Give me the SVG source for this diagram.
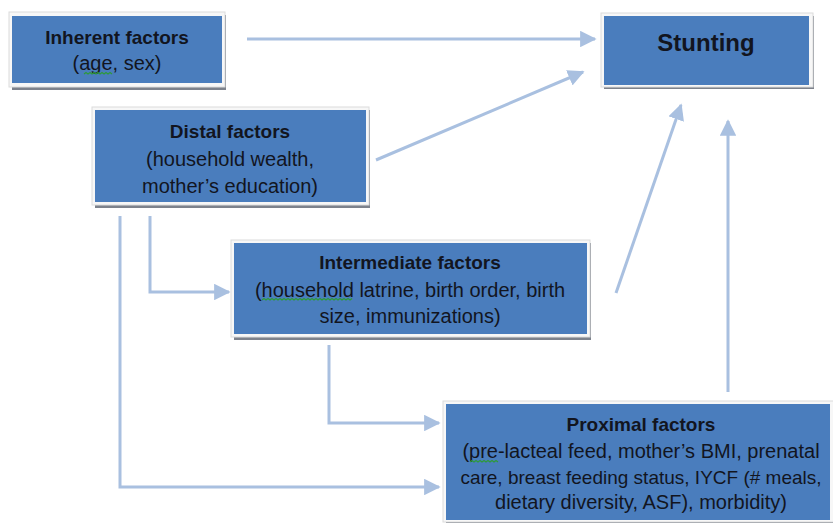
<svg xmlns="http://www.w3.org/2000/svg" width="833" height="523" viewBox="0 0 833 523">
  <defs>
    <style>
      .shadow { fill: #7d828c; }
      .frame { fill: #f7f7f7; stroke: #dcdcdc; stroke-width: 1; }
      .box { fill: #4a7dbd; }
      .t { font-family: "Liberation Sans", Arial, sans-serif; font-size: 20px; fill: #12151f; text-anchor: middle; }
      .b { font-weight: bold; font-size: 19px; }
      .conn { fill: none; stroke: #a9c0e0; stroke-width: 3; }
      .sq { fill: none; stroke: #2f9a3a; stroke-width: 1.2; }
    </style>
    <marker id="arr" viewBox="0 0 10 10" refX="9" refY="5" markerWidth="5.5" markerHeight="5.5" markerUnits="strokeWidth" orient="auto">
      <path d="M0,0 L10,5 L0,10 Z" fill="#a9c0e0"/>
    </marker>
  </defs>
  <rect width="833" height="523" fill="#ffffff"/>

  <g id="connectors">
    <line class="conn" x1="247" y1="39" x2="595" y2="39" marker-end="url(#arr)"/>
    <line class="conn" x1="376" y1="160" x2="583" y2="72" marker-end="url(#arr)"/>
    <line class="conn" x1="616" y1="293" x2="681" y2="105" marker-end="url(#arr)"/>
    <line class="conn" x1="728" y1="392" x2="728" y2="121" marker-end="url(#arr)"/>
    <polyline class="conn" points="150,216 150,292 229,292" marker-end="url(#arr)"/>
    <polyline class="conn" points="329,345 329,423 439,423" marker-end="url(#arr)"/>
    <polyline class="conn" points="120,216 120,487 439,487" marker-end="url(#arr)"/>
  </g>

  <g id="inherent">
    <rect class="shadow" x="12" y="15" width="214" height="75"/>
    <rect class="frame" x="9" y="12" width="216" height="75"/>
    <rect class="box" x="12" y="16" width="210" height="67"/>
    <text class="t b" x="117" y="44">Inherent factors</text>
    <text class="t" x="117" y="70">(age, sex)</text>
    <path class="sq" d="M84,74 l2,-1.5 l2,1.5 l2,-1.5 l2,1.5 l2,-1.5 l2,1.5 l2,-1.5 l2,1.5 l2,-1.5 l2,1.5 l2,-1.5 l2,1.5 l2,-1.5 l2,1.5"/>
  </g>

  <g id="stunting">
    <rect class="shadow" x="604" y="16" width="210" height="73"/>
    <rect class="frame" x="601" y="13" width="212" height="74"/>
    <rect class="box" x="604" y="16" width="205" height="69"/>
    <text class="t b" x="706" y="51" style="font-size:24px">Stunting</text>
  </g>

  <g id="distal">
    <rect class="shadow" x="95" y="110" width="275" height="98"/>
    <rect class="frame" x="92" y="107" width="277" height="98"/>
    <rect class="box" x="95" y="110" width="271" height="92"/>
    <text class="t b" x="230" y="138">Distal factors</text>
    <text class="t" x="230" y="166">(household wealth,</text>
    <text class="t" x="230" y="193">mother’s education)</text>
  </g>

  <g id="intermediate">
    <rect class="shadow" x="234" y="243" width="357" height="97"/>
    <rect class="frame" x="231" y="240" width="359" height="97"/>
    <rect class="box" x="234" y="243" width="353" height="91"/>
    <text class="t b" x="410" y="269">Intermediate factors</text>
    <text class="t" x="410" y="297">(household latrine, birth order, birth</text>
    <text class="t" x="410" y="323">size, immunizations)</text>
    <path class="sq" d="M262,300 l2,-1.5 l2,1.5 l2,-1.5 l2,1.5 l2,-1.5 l2,1.5 l2,-1.5 l2,1.5 l2,-1.5 l2,1.5 l2,-1.5 l2,1.5 l2,-1.5 l2,1.5 l2,-1.5 l2,1.5 l2,-1.5 l2,1.5 l2,-1.5 l2,1.5 l2,-1.5 l2,1.5 l2,-1.5 l2,1.5 l2,-1.5 l2,1.5 l2,-1.5 l2,1.5 l2,-1.5 l2,1.5 l2,-1.5 l2,1.5 l2,-1.5 l2,1.5 l2,-1.5 l2,1.5 l2,-1.5 l2,1.5 l2,-1.5 l2,1.5 l2,-1.5 l2,1.5 l2,-1.5 l2,1.5 l2,-1.5"/>
  </g>

  <g id="proximal">
    <rect class="shadow" x="446" y="404" width="387" height="119"/>
    <rect class="frame" x="443" y="401" width="392" height="121"/>
    <rect class="box" x="446" y="404" width="384" height="116"/>
    <text class="t b" x="641" y="431">Proximal factors</text>
    <text class="t" x="641" y="458">(pre-lacteal feed, mother’s BMI, prenatal</text>
    <text class="t" x="641" y="484" style="font-size:19px">care, breast feeding status, IYCF (# meals,</text>
    <text class="t" x="641" y="509">dietary diversity, ASF), morbidity)</text>
    <path class="sq" d="M470,462 l2,-1.5 l2,1.5 l2,-1.5 l2,1.5 l2,-1.5 l2,1.5 l2,-1.5 l2,1.5 l2,-1.5 l2,1.5 l2,-1.5 l2,1.5 l2,-1.5 l2,1.5"/>
  </g>
</svg>
